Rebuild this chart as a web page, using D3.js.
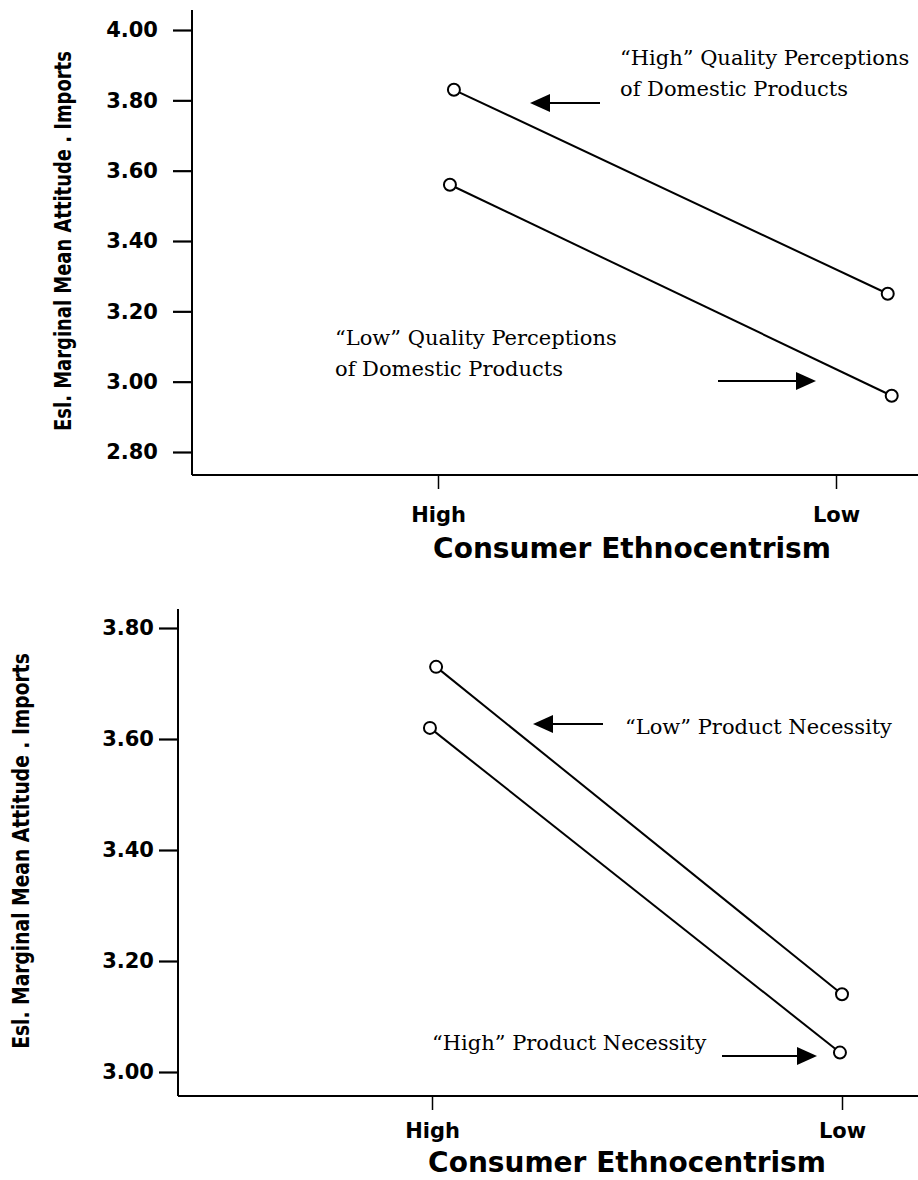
<!DOCTYPE html>
<html>
<head>
<meta charset="utf-8">
<script src="https://cdn.jsdelivr.net/npm/d3@7"></script>
<style>
  body { margin: 0; background: #fff; }
  svg { display: block; }
</style>
</head>
<body>
<svg id="chart" width="918" height="1180"></svg>
<script>
// consumer ethnocentrism levels (x axis)
const levels = ["High", "Low"];
const levelPos = [0, 1];

// top panel: quality perceptions of domestic products
const qualityTicks = [2.80, 3.00, 3.20, 3.40, 3.60, 3.80, 4.00];
const highQualityX = [0.04, 1.13];
const highQualityY = [3.83, 3.25];
const lowQualityX = [0.03, 1.14];
const lowQualityY = [3.56, 2.96];

// bottom panel: product necessity
const necessityTicks = [3.00, 3.20, 3.40, 3.60, 3.80];
const lowNecessityX = [0.01, 1.0];
const lowNecessityY = [3.73, 3.14];
const highNecessityX = [-0.005, 0.995];
const highNecessityY = [3.62, 3.035];

const yTitle = "Esl. Marginal Mean Attitude . Imports";
const xTitle = "Consumer Ethnocentrism";

const svg = d3.select("#chart");
const sansBold = "'DejaVu Sans', 'Liberation Sans', sans-serif";
const serif = "'DejaVu Serif', 'Liberation Serif', serif";

const panels = [
    {
        axisX: 192, axisTop: 10, axisBottom: 475,
        yDomain: [2.8, 4.0], yRange: [452, 30], ticks: qualityTicks, tickPad: 15,
        xRange: [438, 836], tickLabelY: 522,
        titleX: 632, titleY: 558,
        yTitleX: 71, yTitleY: 241, yTitleLen: 380,
        series: [[highQualityX, highQualityY], [lowQualityX, lowQualityY]],
        notes: [
            { lines: ["\u201CHigh\u201D Quality Perceptions", "of Domestic Products"], x: 620, y: 65 },
            { lines: ["\u201CLow\u201D Quality Perceptions", "of Domestic Products"], x: 335, y: 345 }
        ],
        arrows: [{ x1: 600, x2: 530, y: 103 }, { x1: 718, x2: 816, y: 381 }]
    },
    {
        axisX: 178, axisTop: 609, axisBottom: 1096,
        yDomain: [3.0, 3.8], yRange: [1072, 628], ticks: necessityTicks, tickPad: 5,
        xRange: [432, 842], tickLabelY: 1138,
        titleX: 627, titleY: 1172,
        yTitleX: 29, yTitleY: 851, yTitleLen: 396,
        series: [[lowNecessityX, lowNecessityY], [highNecessityX, highNecessityY]],
        notes: [
            { lines: ["\u201CLow\u201D Product Necessity"], x: 625, y: 734 },
            { lines: ["\u201CHigh\u201D Product Necessity"], x: 432, y: 1050 }
        ],
        arrows: [{ x1: 603, x2: 533, y: 724 }, { x1: 722, x2: 817, y: 1056 }]
    }
];

panels.forEach(p => {
    const g = svg.append("g");

    const y = d3.scaleLinear().domain(p.yDomain).range(p.yRange);
    const x = d3.scaleLinear().domain([0, 1]).range(p.xRange);

    // y axis (ticks only, spine drawn separately so it runs past the domain)
    const yAxis = g.append("g")
        .attr("transform", `translate(${p.axisX},0)`)
        .call(d3.axisLeft(y)
            .tickValues(p.ticks)
            .tickSize(19)
            .tickPadding(p.tickPad)
            .tickFormat(d3.format(".2f")));
    yAxis.select(".domain").remove();
    yAxis.selectAll("line").attr("stroke", "#000").attr("stroke-width", 2.2);
    yAxis.selectAll("text")
        .attr("fill", "#000")
        .style("font-family", sansBold)
        .style("font-weight", "bold")
        .style("font-size", "21px");

    g.append("line")
        .attr("x1", p.axisX).attr("x2", p.axisX)
        .attr("y1", p.axisTop).attr("y2", p.axisBottom)
        .attr("stroke", "#000").attr("stroke-width", 2);

    // x axis
    const xAxis = g.append("g")
        .attr("transform", `translate(0,${p.axisBottom})`)
        .call(d3.axisBottom(x)
            .tickValues(levelPos)
            .tickSize(14)
            .tickFormat((d, i) => levels[i]));
    xAxis.select(".domain").remove();
    xAxis.selectAll("line").attr("stroke", "#000").attr("stroke-width", 1.5);
    xAxis.selectAll("text")
        .attr("fill", "#000")
        .attr("y", p.tickLabelY - p.axisBottom)
        .attr("dy", 0)
        .style("font-family", sansBold)
        .style("font-weight", "bold")
        .style("font-size", "21px");

    g.append("line")
        .attr("x1", p.axisX).attr("x2", 918)
        .attr("y1", p.axisBottom).attr("y2", p.axisBottom)
        .attr("stroke", "#000").attr("stroke-width", 2);

    // axis titles
    g.append("text")
        .attr("x", p.titleX)
        .attr("y", p.titleY)
        .attr("text-anchor", "middle")
        .style("font-family", sansBold)
        .style("font-weight", "bold")
        .style("font-size", "28px")
        .text(xTitle);

    // condensed vertical title: squeeze horizontally to the measured length
    const yt = g.append("text")
        .attr("text-anchor", "middle")
        .style("font-family", "'DejaVu Sans Condensed', 'DejaVu Sans', sans-serif")
        .style("font-stretch", "condensed")
        .style("font-weight", "bold")
        .style("font-size", "23px")
        .text(yTitle);
    const natural = yt.node().getComputedTextLength();
    yt.attr("transform", `translate(${p.yTitleX},${p.yTitleY}) rotate(-90) scale(${p.yTitleLen / natural},1)`);

    // series lines and open circle markers
    const line = d3.line().x(d => x(d[0])).y(d => y(d[1]));
    p.series.forEach(([xs, ys]) => {
        const pts = d3.zip(xs, ys);
        g.append("path")
            .datum(pts)
            .attr("d", line)
            .attr("fill", "none")
            .attr("stroke", "#000")
            .attr("stroke-width", 2);
        g.selectAll(null)
            .data(pts)
            .enter().append("circle")
            .attr("cx", d => x(d[0]))
            .attr("cy", d => y(d[1]))
            .attr("r", 6)
            .attr("fill", "#fff")
            .attr("stroke", "#000")
            .attr("stroke-width", 2);
    });

    // annotation text
    p.notes.forEach(n => {
        const t = g.append("text")
            .attr("x", n.x)
            .attr("y", n.y)
            .style("font-family", serif)
            .style("font-size", "21px");
        n.lines.forEach((s, i) => {
            t.append("tspan").attr("x", n.x).attr("dy", i === 0 ? 0 : 31).text(s);
        });
    });

    // arrows
    p.arrows.forEach(a => {
        const dir = a.x2 > a.x1 ? 1 : -1;
        const headLen = 20, headHalf = 9;
        g.append("line")
            .attr("x1", a.x1).attr("x2", a.x2 - dir * headLen)
            .attr("y1", a.y).attr("y2", a.y)
            .attr("stroke", "#000").attr("stroke-width", 2);
        g.append("path")
            .attr("d", `M${a.x2},${a.y} L${a.x2 - dir * headLen},${a.y - headHalf} L${a.x2 - dir * headLen},${a.y + headHalf} Z`)
            .attr("fill", "#000");
    });
});
</script>
</body>
</html>
